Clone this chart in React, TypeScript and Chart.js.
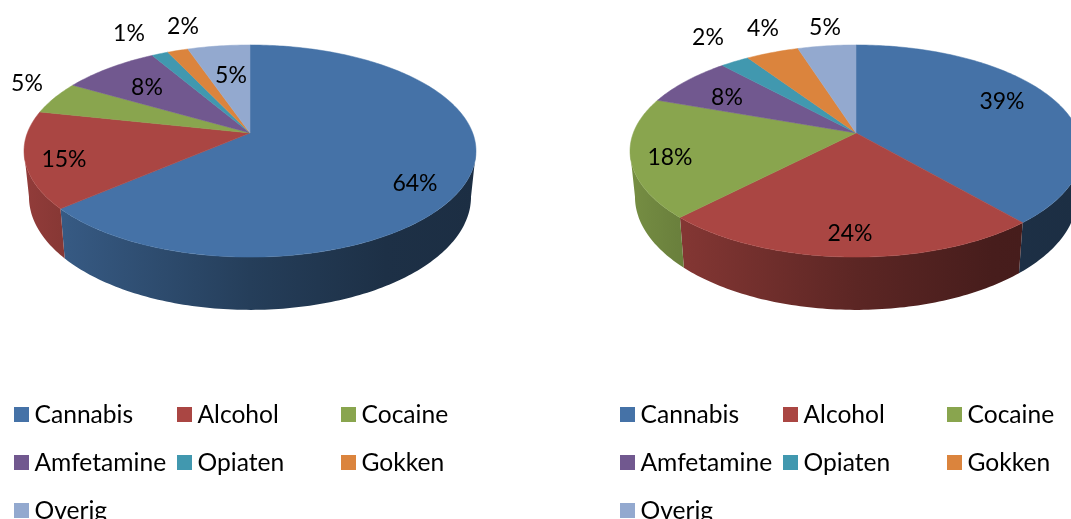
import React, { useEffect, useRef } from "react";
import { Chart, registerables } from "chart.js";

Chart.register(...registerables);

const categories = ["Cannabis", "Alcohol", "Cocaine", "Amfetamine", "Opiaten", "Gokken", "Overig"];
const leftValues = [63.65, 14.75, 5, 8.2, 1.4, 1.75, 5.25];
const rightValues = [38.7, 23.5, 18.25, 7.75, 2.45, 4.45, 4.9];
const colors = ["#4572A7", "#AA4643", "#89A54E", "#71588F", "#4198AF", "#DB843D", "#93A9CF"];

// label centres, relative to the pie's apex
const leftLabelOffsets = [[165, 49], [-186, 25], [-223, -51], [-103, -47], [-121, -101], [-67, -108], [-19, -59]];
const rightLabelOffsets = [[146, -33], [-6, 99], [-186, 23], [-129, -37], [-148, -97], [-93, -106], [-31, -107]];

const TILT = 0.17;
const SQUASH = 103;
const RADIUS = 222.7;
const APEX_Y = 133;
const WALL_X = 0.978;
const WALL_Y = 1.066;
const WALL_BASE = 177.6;
const STEP = Math.PI / 180;

function project(angle: number) {
  const x = Math.cos(angle);
  const y = Math.sin(angle);
  const d = 1 - TILT * y;
  return { x: (RADIUS * x) / d, y: (SQUASH * y) / d };
}

function shade(hex: string, f: number) {
  const n = parseInt(hex.slice(1), 16);
  return `rgb(${Math.round(((n >> 16) & 255) * f)},${Math.round(((n >> 8) & 255) * f)},${Math.round((n & 255) * f)})`;
}

const shadeStops = [[0, 0.86], [0.1, 0.78], [0.5, 0.54], [0.8, 0.42], [1, 0.4]];

function makePlugin(cx: number, labelOffsets: number[][]) {
  return {
    id: "tiltedPie",
    beforeDatasetsDraw(chart: any) {
      const ctx = chart.ctx;
      const arcs = chart.getDatasetMeta(0).data;
      const values = chart.data.datasets[0].data;
      const fills = chart.data.datasets[0].backgroundColor;
      const front0 = Math.asin(TILT);
      const front1 = Math.PI - front0;

      arcs.forEach((arc: any, i: number) => {
        const a0 = Math.max(arc.startAngle, front0);
        const a1 = Math.min(arc.endAngle, front1);
        if (a1 <= a0) return;
        const grad = ctx.createLinearGradient(cx - 226, 0, cx + 226, 0);
        shadeStops.forEach(([p, f]) => grad.addColorStop(p, shade(fills[i], f)));
        const pts: { x: number; y: number }[] = [];
        for (let a = a0; a < a1; a += STEP) pts.push(project(a));
        pts.push(project(a1));
        ctx.beginPath();
        pts.forEach((p, j) => {
          if (j === 0) ctx.moveTo(cx + p.x, APEX_Y + p.y);
          else ctx.lineTo(cx + p.x, APEX_Y + p.y);
        });
        for (let j = pts.length - 1; j >= 0; j--) {
          ctx.lineTo(cx + pts[j].x * WALL_X, WALL_BASE + pts[j].y * WALL_Y);
        }
        ctx.closePath();
        ctx.fillStyle = grad;
        ctx.fill();
      });

      arcs.forEach((arc: any, i: number) => {
        ctx.beginPath();
        ctx.moveTo(cx, APEX_Y);
        for (let a = arc.startAngle; a < arc.endAngle; a += STEP) {
          const p = project(a);
          ctx.lineTo(cx + p.x, APEX_Y + p.y);
        }
        const e = project(arc.endAngle);
        ctx.lineTo(cx + e.x, APEX_Y + e.y);
        ctx.closePath();
        ctx.fillStyle = fills[i];
        ctx.strokeStyle = fills[i];
        ctx.lineWidth = 0.5;
        ctx.fill();
        ctx.stroke();
      });

      ctx.fillStyle = "#000";
      ctx.font = "23px Lato";
      ctx.textAlign = "center";
      ctx.textBaseline = "middle";
      values.forEach((v: number, i: number) => {
        ctx.fillText(`${Math.round(v)}%`, cx + labelOffsets[i][0], APEX_Y + labelOffsets[i][1] + 1.5);
      });
      return false;
    },
  };
}

function Pie({ values, cx, left, width, labelOffsets }: { values: number[]; cx: number; left: number; width: number; labelOffsets: number[][] }) {
  const ref = useRef<HTMLCanvasElement>(null);
  useEffect(() => {
    const chart = new Chart(ref.current as HTMLCanvasElement, {
      type: "pie",
      data: {
        labels: categories,
        datasets: [{ data: values, backgroundColor: colors, borderWidth: 0 }],
      },
      options: {
        animation: false,
        responsive: false,
        events: [],
        plugins: { legend: { display: false }, tooltip: { enabled: false } },
      },
      plugins: [makePlugin(cx, labelOffsets)],
    } as any);
    return () => chart.destroy();
  }, []);
  return <canvas ref={ref} width={width} height={519} style={{ position: "absolute", left, top: 0, width, height: 519 }} />;
}

const legendCols = [14, 177, 341];
const legendRows = [407, 455, 503];

function Legend({ dx }: { dx: number }) {
  return (
    <>
      {categories.map((c, i) => {
        const x = legendCols[i % 3] + dx;
        const y = legendRows[Math.floor(i / 3)];
        return (
          <React.Fragment key={c}>
            <div style={{ position: "absolute", left: x, top: y, width: 15, height: 15, background: colors[i] }} />
            <div style={{ position: "absolute", left: x + 20.5, top: y - 8, height: 29, lineHeight: "29px", fontSize: 24.6, fontFamily: "Lato", color: "#000", whiteSpace: "nowrap" }}>{c}</div>
          </React.Fragment>
        );
      })}
    </>
  );
}

export default function App() {
  return (
    <div style={{ position: "fixed", left: 0, top: 0, width: 1071, height: 519, overflow: "hidden", background: "#fff" }}>
      <Pie values={leftValues} cx={250} left={0} width={535} labelOffsets={leftLabelOffsets} />
      <Pie values={rightValues} cx={321} left={535} width={536} labelOffsets={rightLabelOffsets} />
      <Legend dx={0} />
      <Legend dx={606} />
    </div>
  );
}
